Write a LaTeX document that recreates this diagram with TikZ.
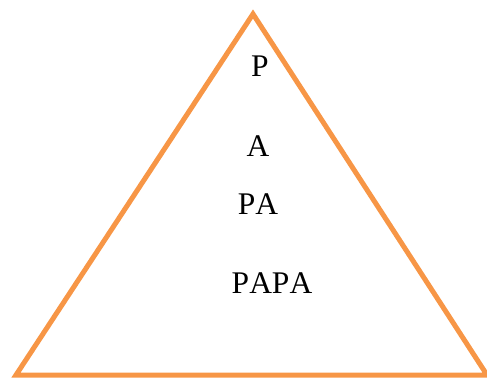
\documentclass[tikz,border=0pt]{standalone}
\usepackage{fontspec}
\setmainfont{Liberation Serif}[Kerning=Off]
\usepackage{tikz}
\usetikzlibrary{positioning}
\definecolor{tri_orange}{HTML}{F79646}
\tikzset{
    tri_edge/.style={
        draw=tri_orange, line width=5pt, line join=miter
    },
    word_lbl/.style={
        inner sep=0pt, font=\fontsize{31.5}{34}\selectfont, text=black
    }
}
\begin{document}
\begin{tikzpicture}[x=1pt, y=-1pt]
    \useasboundingbox (0,0) rectangle (487,381);

    \coordinate (apex) at (253,14);
    \coordinate (left) at (16,375);
    \coordinate (right) at (487,375);
    \draw[tri_edge] (apex) -- (right) -- (left) -- cycle;

    \node[word_lbl] (p) at (260,66.5) {P};
    \node[word_lbl] (a) at (258,146) {A};
    \node[word_lbl] (pa) at (258,204) {PA};
    \node[word_lbl] (papa) at (272,283) {PAPA};
\end{tikzpicture}
\end{document}
